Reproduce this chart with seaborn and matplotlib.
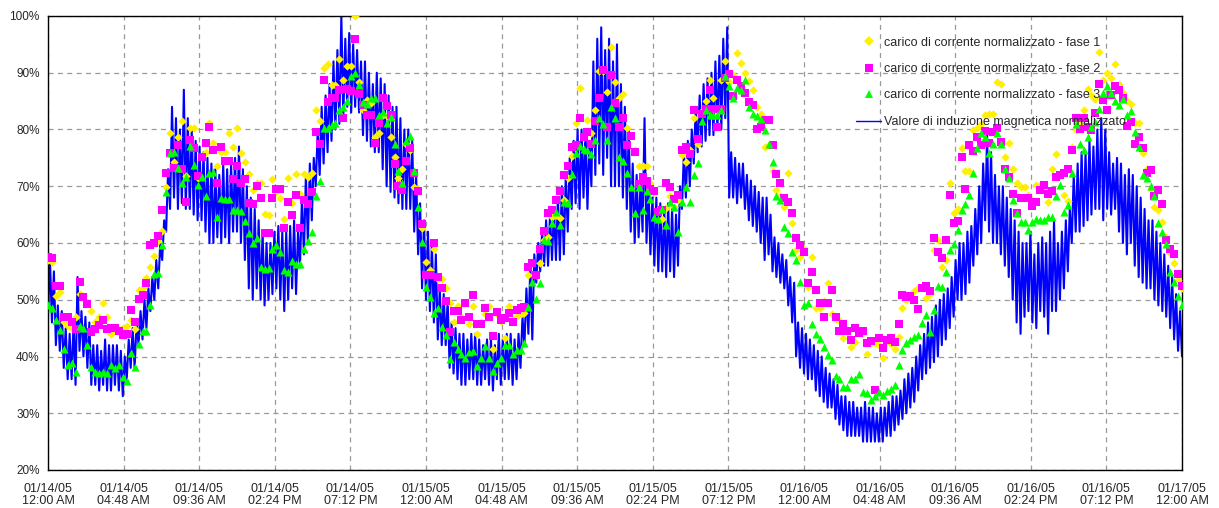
import numpy as np
import pandas as pd
import matplotlib
matplotlib.use('Agg')
import matplotlib.pyplot as plt
from matplotlib.lines import Line2D
import seaborn as sns

# Style
sns.set_style('white')
plt.rcParams['font.family'] = ['Liberation Sans', 'DejaVu Sans']

# Readings every 15 minutes, 01/14/05 00:00 -> 01/17/05 00:00 (one row = 3 hours)
fase1 = [57, 56.7, 50.6, 51.4, 46, 45.4, 45, 47, 51.1, 50.6, 49.6, 48,
         46, 47, 49.4, 47, 44, 44.5, 44.8, 45, 45.4, 46.5, 44.8, 51.7,
         52, 53.9, 55.8, 57.7, 60.4, 62.2, 69.8, 79.4, 74.3, 78.6, 81.5, 71.8,
         80.2, 80.2, 71.4, 75.3, 76.1, 81.2, 77.7, 73.6, 76.1, 76, 79.3, 77,
         80.2, 75.9, 74.3, 72.1, 69.3, 70.6, 70.6, 65.1, 65, 71.2, 69, 68,
         64.2, 71.5, 67, 72.1, 68.6, 72.1, 71.6, 72.4, 83.5, 81.5, 90.8, 91.6,
         87.8, 87.8, 92.5, 88.7, 91.2, 91.2, 100, 88.4, 83.5, 85.2, 84.6, 78.6,
         79.4, 82.5, 82.3, 78.6, 75.2, 71.4, 73, 77.4, 76.3, 69.9, 69.5, 62.6,
         56.7, 55.3, 59, 53.6, 53.6, 52, 49.5, 46.1, 48.9, 47, 49.4, 45.7,
         48.9, 44, 46, 47.5, 48.9, 41.4, 47.5, 46.3, 43.2, 48.9, 46.5, 47.2,
         47.5, 47.7, 54.4, 56.5, 54.3, 56.5, 60.5, 61.1, 64.5, 64.9, 64.4, 67.6,
         71.4, 75.3, 81.1, 87.4, 78.7, 81.7, 79.4, 83.5, 90.3, 90.3, 86.6, 94.6,
         88.4, 85.5, 86.2, 80.2, 78.8, 76.4, 73.6, 73.6, 73.5, 70.5, 69, 65.8,
         64.3, 66.1, 68.2, 66.4, 67.6, 75.5, 74.3, 76.4, 82, 77.5, 83.3, 85.1,
         88.7, 85.6, 83.3, 88.7, 92.1, 88.3, 89.6, 93.4, 91.8, 90, 88.6, 86.9,
         84, 82.8, 77, 77.3, 72.6, 69.3, 68.3, 66.4, 72.3, 63.5, 58.8, 57.6,
         59, 52.3, 57.5, 48.5, 48.5, 49.8, 52.9, 47.5, 46.6, 46.4, 43.2, 44.4,
         41.7, 42.6, 44.1, 44.2, 40.5, 42.4, 42.4, 42, 39.7, 42.5, 42.2, 41.4,
         43.5, 48.5, 50, 50.6, 51.5, 52, 52.3, 50.3, 51, 58.8, 60.5, 55.8,
         57, 70.5, 65.2, 66, 76.7, 72.6, 72.6, 79.9, 80.2, 81, 82.5, 82.8,
         82.8, 88.4, 88, 75.2, 77.7, 73, 70.5, 69.9, 69.9, 68.4, 67.6, 70.2,
         70.2, 69.3, 67.2, 73, 75.7, 72, 68.4, 67.4, 77, 79.9, 81, 83.5,
         87.1, 86, 85.3, 93.7, 88.7, 90, 89, 91.6, 88, 86.4, 85, 84.5,
         81.1, 81.1, 75.8, 73, 69.6, 66.4, 65.8, 63.7, 61.1, 58.3, 56.5, 53.5,
         52]

fase2 = [57.5, 57.3, 52.4, 52.4, 47, 47, 46.1, 44.8, 53.2, 50.5, 49.2, 44.4,
         44.8, 45.5, 46.4, 44.8, 45.1, 45, 44.5, 43.8, 44, 48.2, 46, 50.1,
         50.8, 52.9, 59.6, 60, 61.2, 65.8, 72.4, 75.9, 73.3, 77.3, 73.1, 67.3,
         78.1, 76.8, 71.8, 75.2, 77.7, 80.5, 76.4, 70.5, 77, 74.5, 74.5, 71.2,
         73.6, 70.5, 71.2, 67.1, 66.9, 70, 68, 61.8, 61.8, 68, 69.6, 69.6,
         62.6, 67.3, 64.9, 68.4, 62.6, 67.6, 66.9, 68.9, 79.6, 77.5, 88.8, 84.9,
         85.6, 85.6, 86.9, 82, 87.2, 86.8, 96, 86.3, 84.3, 82.5, 82.5, 77.7,
         81.2, 85.6, 84.2, 82.5, 73.9, 70, 69.4, 74.5, 76.8, 72.3, 69.2, 63.3,
         54.4, 54.4, 60, 54, 52, 49.7, 44.4, 48.1, 48.1, 46.5, 49.4, 46.9,
         50.8, 45.7, 45.7, 48.5, 46.9, 43.6, 47.9, 46.5, 46.8, 47.6, 46, 48.2,
         48.5, 48.8, 55.7, 56.5, 54.4, 58.9, 62.2, 65.3, 65.8, 67.6, 69.2, 72,
         73.6, 77, 77.3, 82, 78.7, 79.5, 77.5, 81.5, 85.6, 90.5, 80.5, 89.6,
         84.6, 80.4, 82, 77.3, 78.8, 76, 70.4, 71.6, 70.9, 69.6, 69.2, 65.5,
         65.8, 70.5, 69.9, 67.8, 68.4, 76.4, 76.9, 75.7, 83.4, 78.4, 82.8, 83.7,
         86.9, 83.7, 80.5, 83.7, 89, 89.8, 85.9, 88.8, 87.6, 86.5, 84.9, 84.4,
         80.1, 80.5, 81.6, 81.6, 77.3, 72.1, 70.5, 68, 67.3, 65.3, 60.8, 59.7,
         58.5, 52.9, 54.9, 51.8, 49.4, 47, 49.4, 51.7, 47, 44.5, 45.8, 44.5,
         42.9, 45, 44.2, 44.5, 42.3, 42.8, 34.1, 43.3, 41.5, 42.9, 43.3, 42.6,
         45.7, 50.8, 50.5, 50.6, 49.9, 48.3, 52.1, 52.5, 51.6, 60.8, 58.5, 57.3,
         60.5, 68.4, 63.6, 63.9, 75.2, 69.6, 77.3, 76.2, 78.7, 77.3, 79.8, 77.6,
         79.5, 80.2, 77.8, 73.1, 71.6, 68.7, 65.3, 67.9, 67.9, 67.9, 66.5, 67.2,
         69.4, 70.2, 68.6, 69.1, 71.7, 72, 72.3, 73, 76.4, 82.1, 80, 82.1,
         80.5, 79.9, 82.9, 88.1, 85.2, 83.5, 86, 87.6, 87, 85.5, 80.6, 81.4,
         77.5, 78.6, 76.8, 72.4, 72.8, 68.3, 69.4, 66.9, 60.5, 58.9, 58, 54.5,
         52.5]

fase3 = [49, 48.5, 46.5, 44.7, 41.3, 38.5, 38.9, 37.3, 45.4, 45, 42, 38.1,
         37.3, 37.1, 37.3, 37.1, 38.5, 38, 38.5, 36.3, 35.6, 40.7, 38.1, 42.2,
         44.5, 44.5, 49.1, 54.5, 54.8, 59.6, 68.9, 75.9, 76.1, 73.3, 70.5, 71.7,
         77.1, 73.7, 70.2, 71.7, 68.3, 72.4, 72.5, 64.5, 67.9, 67.7, 67.7, 65.9,
         65.9, 65.7, 63.9, 61.8, 60, 60.8, 55.7, 55.5, 55.6, 59, 59.6, 58.5,
         55.2, 54.9, 56.9, 56.3, 56.3, 59, 60.4, 62, 68.3, 71, 80.2, 80.2,
         80.8, 81.2, 83.4, 84, 85.1, 89.4, 89.9, 87.8, 84.9, 84.5, 85.5, 85.6,
         82.5, 83, 81.1, 82.2, 77.5, 72.6, 70.5, 78, 78.8, 72.6, 66.4, 60.2,
         52.3, 50.5, 47.7, 48.5, 45.2, 43.8, 39.5, 42.5, 41.4, 40.5, 39.7, 40.8,
         41, 38.3, 39.8, 41.8, 39.7, 37.5, 38.9, 39.7, 42, 42, 40.5, 41.1,
         41.1, 42.4, 48.8, 53.2, 50.1, 53, 60.5, 60.4, 63.5, 65.5, 63.2, 67.3,
         67, 72.1, 75.8, 77.1, 76.6, 76.4, 75.7, 78.1, 82, 81, 78.1, 84,
         82, 75.2, 74.5, 72.3, 69.8, 65.2, 69.8, 65.9, 69.2, 67.7, 64.6, 64.3,
         66, 63.2, 67.2, 66.3, 62, 67.2, 69.9, 67.2, 72, 74.1, 81.5, 83.5,
         82.6, 82.6, 82.6, 83.5, 89.4, 87.6, 85.6, 87.3, 86.9, 88.8, 84, 82.8,
         82.4, 81.8, 79.9, 77.5, 74.3, 68.2, 67.6, 62.9, 61.8, 58.5, 57, 53.2,
         49.1, 49.5, 45.8, 44, 43, 41.6, 40.2, 39.3, 36.6, 36, 34.7, 34.7,
         36, 36, 37, 33.8, 33.5, 32.3, 33, 33.8, 33.2, 34, 34.3, 35,
         38.5, 41.1, 42.3, 42.9, 43.4, 43.8, 45.9, 47.3, 44.4, 48.2, 52.4, 52.2,
         54.9, 58.8, 59.9, 62.3, 65.8, 66.8, 68.4, 72.3, 76.8, 79.3, 78.6, 75.9,
         77.5, 79.4, 77.5, 73, 71.5, 67.6, 65.3, 63.7, 63.7, 62.3, 63.7, 64.3,
         64.1, 64.1, 64.6, 64.6, 68.2, 70.3, 65.5, 66.7, 72.4, 81, 77.5, 76.4,
         78.7, 80.5, 81.4, 83.7, 86.4, 87.6, 86.4, 85.1, 84.3, 85.3, 82.5, 83.3,
         79.6, 77, 72, 71.4, 70, 68.3, 63.6, 62, 59.9, 54.9, 53.2, 50.7,
         49]

# magnetic induction: upper and lower reading inside each 15 min slot
induz_hi = [57, 55, 49, 48, 45, 44, 46, 54, 48, 47, 46, 42,
            42, 41, 43, 42, 42, 42, 41, 40, 43, 45, 46, 48,
            50, 52, 54, 57, 60, 64, 73, 84, 82, 80, 87, 82,
            80, 78, 77, 76, 75, 74, 73, 72, 74, 73, 74, 75,
            77, 73, 70, 68, 66, 64, 62, 60, 60, 62, 63, 62,
            62, 63, 64, 62, 68, 72, 74, 75, 80, 84, 86, 88,
            92, 94, 100, 96, 97, 95, 94, 92, 92, 90, 88, 90,
            89, 88, 86, 84, 84, 82, 80, 80, 78, 72, 67, 64,
            62, 60, 58, 52, 51, 50, 46, 45, 44, 44, 43, 44,
            44, 43, 42, 43, 43, 42, 44, 43, 44, 44, 43, 44,
            47, 52, 56, 58, 60, 62, 64, 65, 66, 68, 70, 72,
            75, 78, 80, 80, 80, 78, 92, 96, 98, 94, 96, 92,
            95, 88, 84, 80, 74, 72, 71, 82, 70, 68, 68, 67,
            66, 67, 66, 65, 70, 76, 78, 80, 84, 86, 88, 89,
            90, 92, 93, 96, 98, 76, 75, 74, 74, 72, 71, 70,
            69, 68, 68, 65, 61, 60, 58, 57, 54, 53, 46, 45,
            44, 43, 42, 41, 40, 38, 37, 36, 35, 33, 33, 32,
            32, 31, 31, 32, 31, 31, 30, 31, 31, 32, 33, 33,
            34, 36, 37, 38, 40, 42, 44, 46, 47, 49, 50, 51,
            52, 54, 57, 60, 60, 62, 63, 66, 70, 74, 79, 76,
            72, 70, 70, 68, 66, 64, 62, 60, 60, 62, 58, 60,
            61, 60, 62, 64, 60, 62, 64, 66, 72, 74, 76, 76,
            78, 77, 80, 82, 80, 76, 74, 75, 74, 72, 73, 72,
            70, 68, 66, 64, 64, 62, 60, 58, 56, 54, 51, 48,
            42]

induz_lo = [47, 46, 42, 41, 38, 36, 36, 35, 41, 40, 38, 35,
            35, 34, 35, 34, 34, 35, 34, 33, 36, 38, 38, 42,
            43, 45, 48, 50, 52, 57, 62, 66, 68, 66, 67, 66,
            66, 65, 64, 64, 62, 60, 60, 61, 60, 61, 60, 62,
            62, 60, 57, 52, 50, 52, 50, 49, 50, 51, 52, 50,
            48, 50, 52, 51, 56, 58, 60, 64, 70, 72, 74, 76,
            78, 80, 81, 82, 84, 83, 84, 83, 79, 78, 77, 76,
            76, 73, 70, 69, 68, 67, 66, 66, 66, 62, 58, 52,
            50, 48, 46, 43, 42, 42, 38, 37, 36, 35, 35, 36,
            36, 35, 35, 36, 35, 34, 36, 35, 36, 36, 35, 36,
            38, 42, 44, 43, 53, 55, 56, 56, 57, 57, 57, 58,
            62, 66, 67, 66, 68, 66, 70, 72, 74, 72, 75, 70,
            70, 70, 68, 66, 62, 60, 61, 62, 60, 58, 56, 55,
            55, 54, 55, 54, 56, 66, 68, 70, 74, 76, 77, 78,
            79, 79, 80, 80, 82, 68, 68, 67, 68, 66, 64, 63,
            62, 60, 57, 58, 55, 54, 53, 52, 49, 46, 40, 38,
            37, 36, 36, 34, 33, 32, 31, 31, 29, 28, 27, 26,
            26, 26, 26, 25, 25, 25, 25, 25, 25, 26, 26, 27,
            28, 29, 30, 31, 32, 34, 36, 37, 38, 39, 40, 42,
            43, 45, 47, 50, 50, 51, 53, 56, 58, 60, 64, 62,
            60, 60, 58, 56, 54, 50, 46, 44, 47, 48, 46, 45,
            48, 47, 44, 48, 48, 50, 52, 55, 60, 62, 62, 63,
            64, 65, 66, 66, 64, 66, 65, 66, 62, 60, 58, 60,
            56, 54, 53, 52, 52, 50, 49, 48, 47, 45, 43, 41,
            40]

tick_labels = ['01/14/05\n12:00 AM', '01/14/05\n04:48 AM', '01/14/05\n09:36 AM',
               '01/14/05\n02:24 PM', '01/14/05\n07:12 PM', '01/15/05\n12:00 AM',
               '01/15/05\n04:48 AM', '01/15/05\n09:36 AM', '01/15/05\n02:24 PM',
               '01/15/05\n07:12 PM', '01/16/05\n12:00 AM', '01/16/05\n04:48 AM',
               '01/16/05\n09:36 AM', '01/16/05\n02:24 PM', '01/16/05\n07:12 PM',
               '01/17/05\n12:00 AM']
y_ticks = [20, 30, 40, 50, 60, 70, 80, 90, 100]

labels = ['carico di corrente normalizzato - fase 1',
          'carico di corrente normalizzato - fase 2',
          'carico di corrente normalizzato - fase 3',
          'Valore di induzione magnetica normalizzato']

# hours since 01/14/05 00:00
ore = np.arange(len(fase1)) * 0.25
df = pd.DataFrame({'ore': ore, 'f1': fase1, 'f2': fase2, 'f3': fase3})

# blue trace goes low -> high inside every slot
bx = np.column_stack([ore, ore + 0.125]).ravel()
by = np.column_stack([induz_lo, induz_hi]).ravel()
dfb = pd.DataFrame({'ore': bx, 'B': by})

fig = plt.figure(figsize=(12.19, 5.08), dpi=100)
ax = fig.add_axes([48 / 1219, 38 / 508, 1134 / 1219, 454 / 508])

sns.lineplot(data=dfb, x='ore', y='B', ax=ax, color='#0000FF', linewidth=1.5,
             estimator=None, sort=False, zorder=2)
sns.scatterplot(data=df, x='ore', y='f1', ax=ax, marker='D', color='#FFF000',
                s=18, linewidth=0, zorder=3)
sns.scatterplot(data=df, x='ore', y='f2', ax=ax, marker='s', color='#FF00FF',
                s=30, linewidth=0, zorder=4)
sns.scatterplot(data=df, x='ore', y='f3', ax=ax, marker='^', color='#00FF00',
                s=34, linewidth=0, zorder=5)

ax.set_xlim(0, 72)
ax.set_ylim(20, 100)
ax.set_xticks(np.linspace(0, 72, len(tick_labels)))
ax.set_xticklabels(tick_labels, fontsize=9, linespacing=1.05)
ax.set_yticks(y_ticks)
ax.set_yticklabels([f'{v}%' for v in y_ticks], fontsize=8.5)
ax.set_xlabel('')
ax.set_ylabel('')

ax.grid(True, color='#999999', linestyle=(0, (4, 3.5)), linewidth=0.9)
ax.set_axisbelow(True)
for sp in ax.spines.values():
    sp.set_color('black')
    sp.set_linewidth(1.0)
ax.tick_params(direction='inout', length=6, width=0.8, color='black', pad=3)
ax.tick_params(axis='x', pad=6)

handles = [Line2D([], [], ls='none', marker='D', color='#FFF000', markersize=4.6, markeredgewidth=0),
           Line2D([], [], ls='none', marker='s', color='#FF00FF', markersize=5.6, markeredgewidth=0),
           Line2D([], [], ls='none', marker='^', color='#00FF00', markersize=6.0, markeredgewidth=0),
           Line2D([], [], color='#0000FF', linewidth=1.0)]
ax.legend(handles, labels, loc='upper left', bbox_to_anchor=(850 / 1219, 1 - 30.5 / 508),
          bbox_transform=fig.transFigure, frameon=False, fontsize=9,
          labelspacing=1.15, handlelength=2.0, handletextpad=0.25, borderpad=0)

fig.savefig('out.png', dpi=100)
